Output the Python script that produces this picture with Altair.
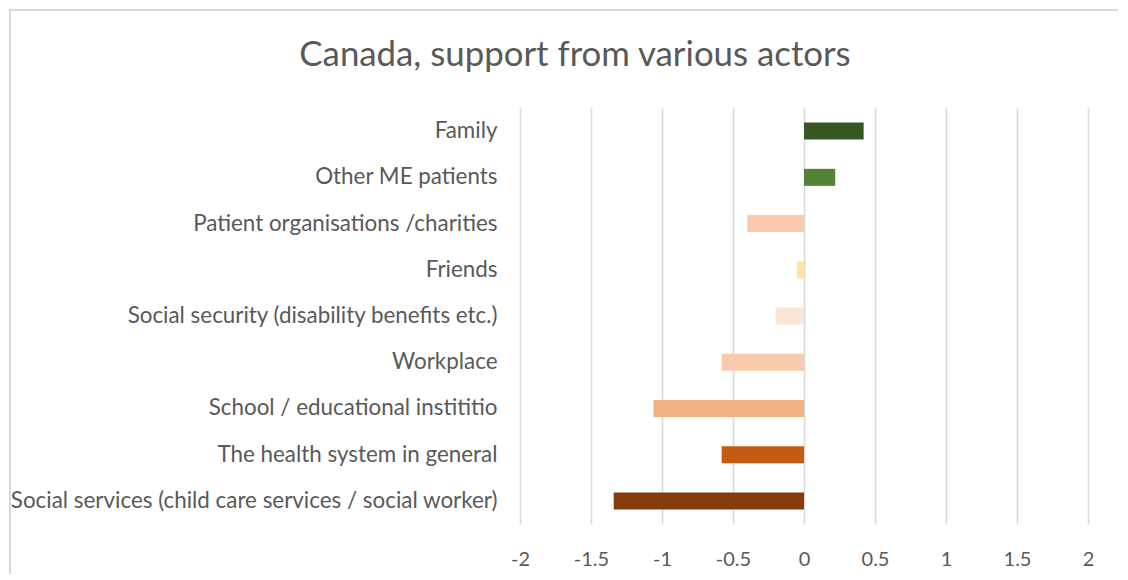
import altair as alt
import pandas as pd

categories = [
    "Family",
    "Other ME patients",
    "Patient organisations /charities",
    "Friends",
    "Social security (disability benefits etc.)",
    "Workplace",
    "School / educational instititio",
    "The health system in general",
    "Social services (child care services / social worker)",
]
values = [0.42, 0.22, -0.40, -0.05, -0.20, -0.58, -1.06, -0.58, -1.34]
colors = ["#375623", "#548235", "#F8CBAD", "#FFE699", "#FBE5D6",
          "#F8CBAD", "#F4B183", "#C55A11", "#843C0C"]
x_ticks = [-2, -1.5, -1, -0.5, 0, 0.5, 1, 1.5, 2]

df = pd.DataFrame({"actor": categories, "value": values, "color": colors})

FONT = "Lato"

bars = alt.Chart(df).mark_bar(size=17, clip=False).encode(
    y=alt.Y("actor:N", sort=categories, title=None,
            scale=alt.Scale(paddingInner=0.63, paddingOuter=0.315),
            axis=alt.Axis(domain=False, ticks=False, labelPadding=23,
                          labelFontSize=22.4, labelColor="#595959", labelFont=FONT,
                          labelLimit=600, grid=False)),
    x=alt.X("value:Q", title=None,
            scale=alt.Scale(domain=[-2, 2], nice=False),
            axis=alt.Axis(values=x_ticks, domain=False, ticks=False, labelPadding=25,
                          labelFontSize=20, labelColor="#595959", labelFont=FONT,
                          labelExpr="'' + datum.value",
                          grid=True, gridColor="#d9d9d9", gridWidth=1.6,
                          labelFlush=False)),
    color=alt.Color("color:N", scale=None, legend=None),
)

border = alt.Chart(df).mark_rect(fill=None, stroke="#d9d9d9", strokeWidth=1.5, clip=False).encode(
    x=alt.value(-510), x2=alt.value(620), y=alt.value(-98), y2=alt.value(80 + 416)
)

chart = alt.layer(bars, border).properties(
    width=568, height=416,
    background="white",
    title=alt.TitleParams("Canada, support from various actors", fontSize=34.8,
                          font=FONT, fontWeight="normal", color="#595959",
                          anchor="middle", frame="group", dx=-229, offset=0, dy=65),
    autosize=alt.AutoSizeParams(type="none"),
    padding={"left": 512, "top": 100, "right": 30, "bottom": 50},
).configure_view(strokeWidth=0, stroke="transparent")

chart.save("out.html", embed_options={"renderer": "svg", "actions": False})
